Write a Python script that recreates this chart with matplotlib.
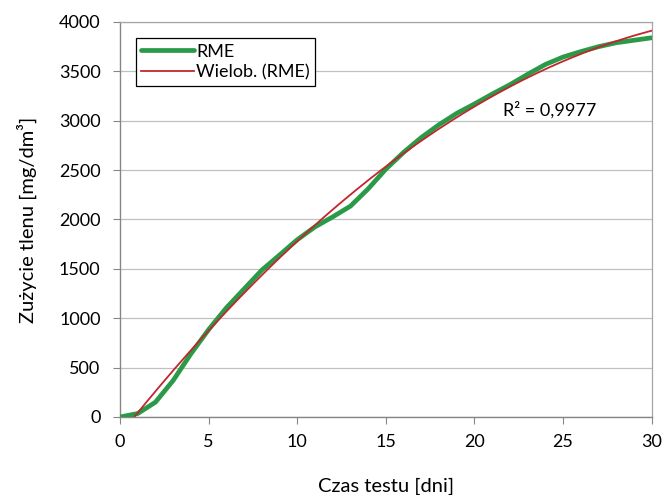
import numpy as np
import matplotlib
matplotlib.use("Agg")
import matplotlib.pyplot as plt

plt.rcParams['font.family'] = ['Lato', 'DejaVu Sans']

days = [0, 1, 2, 3, 4, 5, 6, 7, 8, 9, 10, 11, 12, 13, 14, 15, 16, 17, 18, 19, 20,
        21, 22, 23, 24, 25, 26, 27, 28, 29, 30]
rme = [0, 35, 150, 370, 640, 885, 1105, 1296, 1487, 1640, 1795, 1925, 2026, 2135,
       2310, 2510, 2680, 2830, 2960, 3075, 3170, 3270, 3365, 3470, 3570, 3645, 3700,
       3750, 3790, 3815, 3840]
series_label = "RME"
trend_label = "Wielob. (RME)"
trend_degree = 2
r2_text = "R² = 0,9977"
x_ticks = [0, 5, 10, 15, 20, 25, 30]
y_ticks = [0, 500, 1000, 1500, 2000, 2500, 3000, 3500, 4000]
xlabel = "Czas testu [dni]"
ylabel = "Zużycie tlenu [mg/dm³]"

fig = plt.figure(figsize=(6.63, 4.95), dpi=100)
ax = fig.add_axes([0.181, 0.1576, 0.802, 0.798])

x = np.array(days, dtype=float)
y = np.array(rme, dtype=float)
coef = np.polyfit(x, y, trend_degree)
xf = np.linspace(0, 30, 400)
yf = np.polyval(coef, xf)

ax.plot(x, y, color='#2a9a48', lw=3.4, solid_capstyle='round', solid_joinstyle='round',
        label=series_label, zorder=3)
ax.plot(xf, yf, color='#c0272d', lw=1.3, label=trend_label, zorder=4)

ax.set_xlim(0, 30)
ax.set_ylim(0, 4000)
ax.set_xticks(x_ticks)
ax.set_yticks(y_ticks)
ax.grid(axis='y', color='#c0c0c0', lw=0.9)
ax.set_axisbelow(True)
for s in ['left', 'bottom']:
    ax.spines[s].set_color('#868686')
    ax.spines[s].set_linewidth(1.0)
for s in ['top', 'right']:
    ax.spines[s].set_color('#a6a6a6')
    ax.spines[s].set_linewidth(0.9)
ax.tick_params(axis='both', direction='out', length=5, color='#868686', labelsize=13)
ax.tick_params(axis='y', pad=9)
ax.tick_params(axis='x', pad=7)
ax.set_xlabel(xlabel, fontsize=14.5, labelpad=20)
ax.set_ylabel(ylabel, fontsize=14.5, labelpad=16)

ax.text(21.6, 3110, r2_text, fontsize=13, va='center', ha='left')

leg = ax.legend(loc='upper left', bbox_to_anchor=(0.03, 0.959), fontsize=13, frameon=True,
                fancybox=False, edgecolor='black', framealpha=1, handlelength=2.9,
                handletextpad=0.15, borderpad=0.3, labelspacing=0.25, borderaxespad=0)
leg.get_frame().set_linewidth(0.9)

fig.savefig("out.png", dpi=100)
